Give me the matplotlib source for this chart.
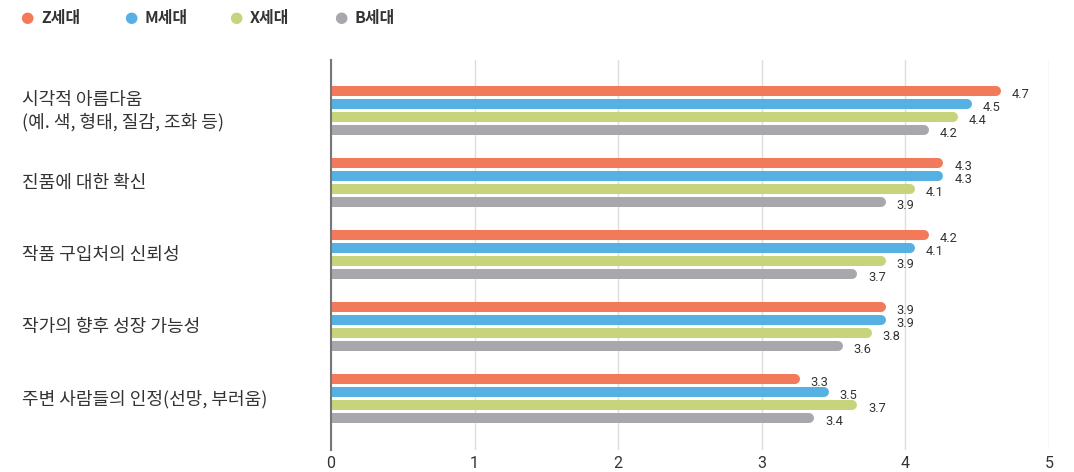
import matplotlib
matplotlib.use("Agg")
import matplotlib.pyplot as plt
from matplotlib import font_manager as fm

plt.rcParams['font.family'] = ['Noto Sans CJK KR', 'DejaVu Sans']

categories = ["시각적 아름다움\n(예. 색, 형태, 질감, 조화 등)", "진품에 대한 확신",
              "작품 구입처의 신뢰성", "작가의 향후 성장 가능성",
              "주변 사람들의 인정(선망, 부러움)"]
series = ["Z세대", "M세대", "X세대", "B세대"]
z_vals = [4.7, 4.3, 4.2, 3.9, 3.3]
m_vals = [4.5, 4.3, 4.1, 3.9, 3.5]
x_vals = [4.4, 4.1, 3.9, 3.8, 3.7]
b_vals = [4.2, 3.9, 3.7, 3.6, 3.4]
values = [z_vals, m_vals, x_vals, b_vals]
colors = ["#F27A5A", "#56B0E2", "#C7D47B", "#A8A8AC"]
xticks = [0, 1, 2, 3, 4, 5]

names = {f.name for f in fm.fontManager.ttflist}
num_font = 'Roboto' if 'Roboto' in names else 'DejaVu Sans'

fig = plt.figure(figsize=(10.74, 4.72), dpi=100)
ax = fig.add_axes([331/1074, 1-450/472, (1049-331)/1074, 390/472])

step = 13/72
bar_h = 10/72
r = 5/143.6
inset = 5/143.6  # bars stop a little short of their value
for k, (vals, c) in enumerate(zip(values, colors)):
    for i, v in enumerate(vals):
        y = i + (k - 1.5) * step
        end = v - inset
        ax.barh(y, end - r, height=bar_h, color=c, zorder=3)
        ax.plot([end - r - 0.01, end - r], [y, y], color=c, lw=7.2,
                solid_capstyle='round', zorder=3)
        ax.text(end + 0.075, y + 0.045, f"{v:.1f}", fontsize=9.3, family=num_font,
                color="#333333", va='center', ha='left', zorder=4)

ax.set_xlim(0, 5)
ax.set_ylim(4.715, -0.70)
ax.set_xticks(xticks)
ax.set_xticklabels([str(t) for t in xticks], family=num_font, fontsize=11.5,
                   color="#333333")
ax.tick_params(axis='x', length=0, pad=4)
ax.set_yticks([])
ax.grid(axis='x', color="#DDDDDD", lw=1, zorder=0)
for s in ['top', 'right', 'bottom']:
    ax.spines[s].set_visible(False)
ax.spines['left'].set_color("#777777")
ax.spines['left'].set_linewidth(1.5)
ax.spines['left'].set_zorder(5)

for i, cat in enumerate(categories):
    yfig = 1 - (111 + i * 72) / 472
    fig.text(22/1074, yfig, cat, fontsize=13, color="#333333",
             ha='left', va='center', linespacing=1.25)

leg_x = [27, 131, 236, 341]
for lx, name, c in zip(leg_x, series, colors):
    fig.text(lx/1074, 1 - 18/472, "●", fontsize=11, color=c,
             ha='center', va='center', family='DejaVu Sans')
    fig.text((lx + 14)/1074, 1 - 18/472, name, fontsize=11.5, color="#333333",
             ha='left', va='center', fontweight='bold')

fig.savefig("out.png", dpi=100)
